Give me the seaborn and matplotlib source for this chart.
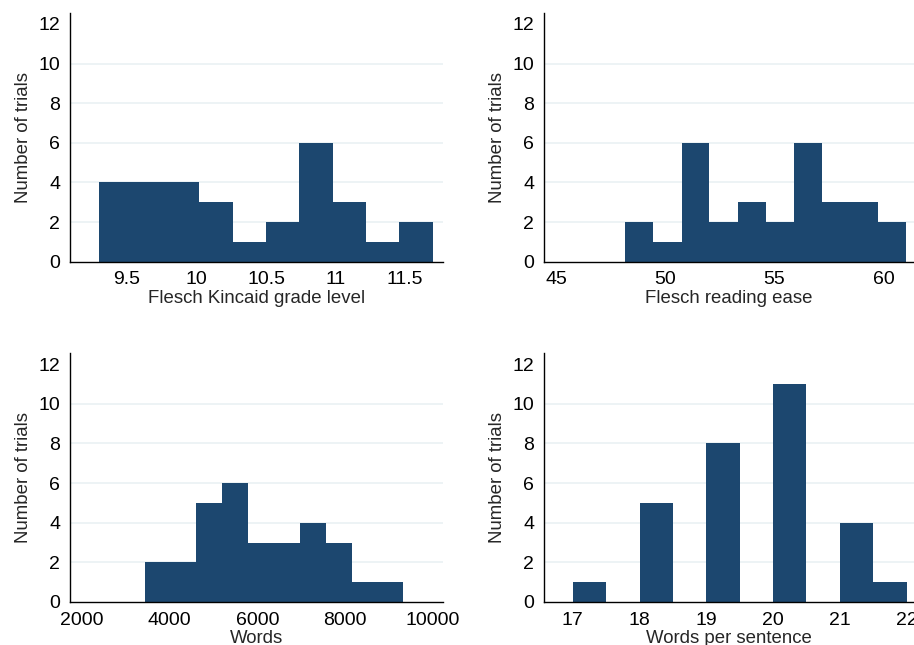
import numpy as np
import pandas as pd
import matplotlib
matplotlib.use("Agg")
import matplotlib.pyplot as plt
import seaborn as sns

# ---- data (bin edges & counts) ----
fk_edges = [9.30, 9.54, 9.78, 10.02, 10.26, 10.50, 10.74, 10.98, 11.22, 11.46, 11.70]
fk_counts = [4, 4, 4, 3, 1, 2, 6, 3, 1, 2]

fre_edges = [48.17, 49.46, 50.75, 52.03, 53.32, 54.60, 55.89, 57.18, 58.46, 59.75, 61.04]
fre_counts = [2, 1, 6, 2, 3, 2, 6, 3, 3, 2]

words_edges = [3431, 4020, 4609, 5199, 5788, 6377, 6966, 7556, 8145, 8734, 9323]
words_counts = [2, 2, 5, 6, 3, 3, 4, 3, 1, 1]

wps_edges = [17.0, 17.5, 18.0, 18.5, 19.0, 19.5, 20.0, 20.5, 21.0, 21.5, 22.0]
wps_counts = [1, 0, 5, 0, 8, 0, 11, 0, 4, 1]

panels = [
    ("Flesch Kincaid grade level", fk_edges, fk_counts, [9.5, 10, 10.5, 11, 11.5],
     ["9.5", "10", "10.5", "11", "11.5"], (9.09, 11.773)),
    ("Flesch reading ease", fre_edges, fre_counts, [45, 50, 55, 60],
     ["45", "50", "55", "60"], (44.45, 61.40)),
    ("Words", words_edges, words_counts, [2000, 4000, 6000, 8000, 10000],
     ["2000", "4000", "6000", "8000", "10000"], (1733, 10228)),
    ("Words per sentence", wps_edges, wps_counts, [17, 18, 19, 20, 21, 22],
     ["17", "18", "19", "20", "21", "22"], (16.57, 22.11)),
]
y_ticks = [0, 2, 4, 6, 8, 10, 12]
y_label = "Number of trials"

sns.set_theme(style="white")
plt.rcParams["font.family"] = ["Liberation Sans", "DejaVu Sans"]

BAR = "#1c476f"
GRID = "#eaf1f3"

fig = plt.figure(figsize=(9.14, 6.45), dpi=100)
W, H = 914, 645
boxes = [
    (70, 12.7, 443, 261.7),
    (544, 12.7, 914, 261.7),
    (70, 352.7, 443, 602.0),
    (544, 352.7, 914, 602.0),
]

for (xlabel, edges, counts, xt, xtl, xlim), (l, t, r, b) in zip(panels, boxes):
    ax = fig.add_axes([l / W, 1 - b / H, (r - l) / W, (b - t) / H])
    e = [float(v) for v in edges]
    centers = [(e[i] + e[i + 1]) / 2 for i in range(len(e) - 1)]
    df = pd.DataFrame({"x": centers, "w": [float(c) for c in counts]})
    for yv in y_ticks[1:-1]:
        ax.axhline(yv, color=GRID, lw=1.2, zorder=0)
    sns.histplot(data=df, x="x", weights="w", bins=e, ax=ax,
                 color=BAR, alpha=1, edgecolor=BAR, linewidth=0, zorder=2)
    ax.set_xlim(*xlim)
    ax.set_ylim(0, 12.57)
    ax.set_xticks(xt)
    ax.set_xticklabels(xtl)
    ax.set_yticks(y_ticks)
    ax.set_xlabel(xlabel, fontsize=13.4, labelpad=1)
    ax.set_ylabel(y_label, fontsize=13.4, labelpad=5)
    ax.tick_params(axis="both", which="major", direction="out", length=5,
                   width=1, color="#808080", labelsize=14, pad=2,
                   labelcolor="black")
    for side in ("top", "right"):
        ax.spines[side].set_visible(False)
    for side in ("left", "bottom"):
        ax.spines[side].set_color("black")
        ax.spines[side].set_linewidth(1)
    ax.grid(False)

fig.savefig("out.png", dpi=100)
